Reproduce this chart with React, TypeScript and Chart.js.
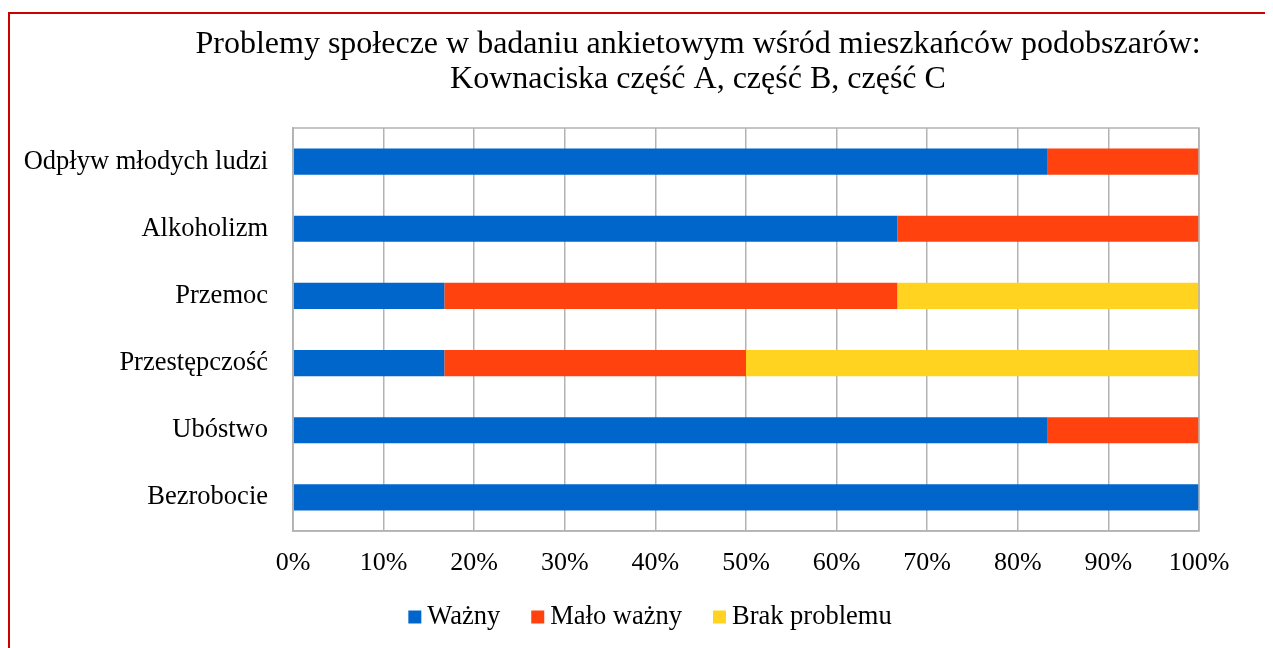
import React, { useEffect, useRef } from 'react';
import { Chart, registerables } from 'chart.js';

Chart.register(...registerables);

const categories = ['Odpływ młodych ludzi', 'Alkoholizm', 'Przemoc', 'Przestępczość', 'Ubóstwo', 'Bezrobocie'];
const wazny = [83.3, 66.7, 16.7, 16.7, 83.3, 100];
const maloWazny = [16.7, 33.3, 50, 33.3, 16.7, 0];
const brakProblemu = [0, 0, 33.3, 50, 0, 0];
const seriesNames = ['Ważny', 'Mało ważny', 'Brak problemu'];
const seriesColors = ['#0066CC', '#FF420E', '#FFD320'];
const xTickStep = 10;
const xMax = 100;
const titleLines = [
  'Problemy społecze w badaniu ankietowym wśród mieszkańców podobszarów:',
  'Kownaciska część A, część B, część C',
];

const FONT = "'Liberation Serif', 'Times New Roman', serif";
const W = 1265;
const H = 640;

const decorPlugin = {
  id: 'decor',
  afterDraw(chart: any) {
    const ctx = chart.ctx as CanvasRenderingContext2D;
    const area = chart.chartArea;
    ctx.save();
    // plot frame
    ctx.strokeStyle = '#B3B3B3';
    ctx.lineWidth = 1.5;
    ctx.strokeRect(area.left, area.top, area.right - area.left, area.bottom - area.top);

    // title
    ctx.fillStyle = '#000000';
    ctx.font = `32px ${FONT}`;
    ctx.textAlign = 'center';
    ctx.textBaseline = 'middle';
    ctx.fillText(titleLines[0], 690, 37);
    ctx.fillText(titleLines[1], 690, 72);

    // legend
    ctx.font = `26.5px ${FONT}`;
    const box = 13;
    const gapBox = 6;
    const gapItem = 31;
    const items = chart.data.datasets.map((d: any) => ({
      label: d.label as string,
      color: d.backgroundColor as string,
      w: ctx.measureText(d.label).width,
    }));
    let total = 0;
    items.forEach((it: any, i: number) => {
      total += box + gapBox + it.w + (i < items.length - 1 ? gapItem : 0);
    });
    let x = 642 - total / 2;
    const cy = 609;
    ctx.textAlign = 'left';
    items.forEach((it: any) => {
      ctx.fillStyle = it.color;
      ctx.fillRect(x, cy - box / 2, box, box);
      x += box + gapBox;
      ctx.fillStyle = '#000000';
      ctx.fillText(it.label, x, cy);
      x += it.w + gapItem;
    });
    ctx.restore();
  },
};

export default function App() {
  const ref = useRef<HTMLCanvasElement | null>(null);

  useEffect(() => {
    if (!ref.current) return;
    const datasets = [wazny, maloWazny, brakProblemu].map((vals, i) => ({
      label: seriesNames[i],
      data: vals,
      backgroundColor: seriesColors[i],
      borderWidth: 0,
      categoryPercentage: 1,
      barPercentage: 0.39,
    }));
    const chart = new Chart(ref.current, {
      type: 'bar',
      data: { labels: categories, datasets },
      options: {
        indexAxis: 'y',
        responsive: false,
        animation: false,
        layout: { padding: { top: 120, right: 74, bottom: 67, left: 0 } },
        plugins: {
          legend: { display: false },
          title: { display: false },
          tooltip: { enabled: false },
        },
        scales: {
          x: {
            stacked: true,
            min: 0,
            max: xMax,
            ticks: {
              stepSize: xTickStep,
              padding: 17,
              color: '#000000',
              font: { family: FONT, size: 26 },
              callback: (v: any) => `${v}%`,
            },
            grid: { color: '#B3B3B3', lineWidth: 1.5, drawTicks: false },
            border: { display: true, color: '#B3B3B3', width: 1.5 },
            afterFit: (scale: any) => {
              scale.height = 50;
            },
          },
          y: {
            stacked: true,
            ticks: {
              padding: 25,
              color: '#000000',
              font: { family: FONT, size: 26.5 },
            },
            grid: { display: false, drawTicks: false },
            border: { display: true, color: '#B3B3B3', width: 1.5 },
            afterFit: (scale: any) => {
              scale.width = 285;
            },
          },
        },
      },
      plugins: [decorPlugin],
    });
    return () => chart.destroy();
  }, []);

  return (
    <div style={{ position: 'relative', width: W, height: H, overflow: 'hidden' }}>
      <canvas
        ref={ref}
        width={W}
        height={H}
        style={{ position: 'absolute', left: 0, top: 0, width: W, height: H, display: 'block' }}
      />
      <div
        style={{
          position: 'absolute',
          left: 0,
          top: 4,
          width: 1400,
          height: 800,
          border: '2px solid #CC0000',
          boxSizing: 'border-box',
          pointerEvents: 'none',
        }}
      />
    </div>
  );
}
